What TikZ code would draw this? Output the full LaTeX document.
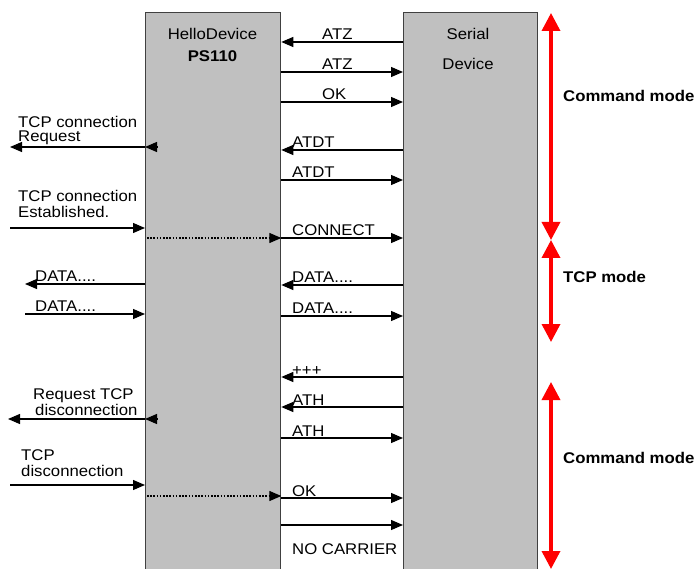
\documentclass[tikz,border=0pt]{standalone}
\usepackage{fontspec}
\setmainfont[FakeStretch=1.08]{Liberation Sans}
\usetikzlibrary{arrows.meta,calc}
\definecolor{boxgray}{HTML}{C0C0C0}
\definecolor{edgegray}{HTML}{404040}
\begin{document}
\begin{tikzpicture}[x=1pt,y=-1pt,
  devbox/.style={draw=edgegray,fill=boxgray,line width=1.3pt,anchor=north west,inner sep=0pt,minimum height=590pt},
  msg/.style={line width=1.1pt,-{Triangle[length=12pt,width=10pt]}},
  dotmsg/.style={line width=1.3pt,dash pattern=on 1.6pt off 1.6pt,-{Triangle[length=12pt,width=10pt]}},
  lbl/.style={anchor=base west,inner sep=0pt,font=\fontsize{15.5}{18}\selectfont},
  ttl/.style={anchor=base,inner sep=0pt,font=\fontsize{15.5}{18}\selectfont},
  mode/.style={anchor=base west,inner sep=0pt,font=\fontsize{15.5}{18}\selectfont\bfseries},
  span/.style={draw=red,line width=3.5pt,{Triangle[length=18pt,width=18pt]}-{Triangle[length=18pt,width=18pt]}}
]
\useasboundingbox (0,0) rectangle (696,569);
% devices
\node[devbox,minimum width=135pt] (hd) at (145,12) {};
\node[devbox,minimum width=134pt] (sd) at (403,12) {};
\node[ttl] (hdn) at (212.5,40) {HelloDevice};
\node[ttl,font=\fontsize{15.5}{18}\selectfont\bfseries] (hdm) at (212.5,62) {PS110};
\node[ttl] (sdn) at (468,40) {Serial};
\node[ttl] (sdm) at (468,70) {Device};
% left free ends
\coordinate (l1) at (10,147);
\coordinate (l2) at (10,228);
\coordinate (l3) at (25,284);
\coordinate (l4) at (25,314);
\coordinate (l5) at (8,419);
\coordinate (l6) at (10,485);
\coordinate (in1) at (157,147);
\coordinate (in2) at (157,419);
% messages between the devices
\draw[msg] (sd.west|-0,42) -- (hd.east|-0,42);
\draw[msg] (hd.east|-0,72) -- (sd.west|-0,72);
\draw[msg] (hd.east|-0,102) -- (sd.west|-0,102);
\draw[msg] (sd.west|-0,150) -- (hd.east|-0,150);
\draw[msg] (hd.east|-0,180) -- (sd.west|-0,180);
\draw[msg] (hd.east|-0,238) -- (sd.west|-0,238);
\draw[msg] (sd.west|-0,285) -- (hd.east|-0,285);
\draw[msg] (hd.east|-0,316) -- (sd.west|-0,316);
\draw[msg] (sd.west|-0,377) -- (hd.east|-0,377);
\draw[msg] (sd.west|-0,407) -- (hd.east|-0,407);
\draw[msg] (hd.east|-0,438) -- (sd.west|-0,438);
\draw[msg] (hd.east|-0,498) -- (sd.west|-0,498);
\draw[msg] (hd.east|-0,525) -- (sd.west|-0,525);
\node[lbl] (m1) at (322,40) {ATZ};
\node[lbl] (m2) at (322,70) {ATZ};
\node[lbl] (m3) at (322,100) {OK};
\node[lbl] (m4) at (292,148) {ATDT};
\node[lbl] (m5) at (292,178) {ATDT};
\node[lbl] (m6) at (292,236) {CONNECT};
\node[lbl] (m7) at (292,283) {DATA....};
\node[lbl] (m8) at (292,314) {DATA....};
\node[lbl] (m9) at (292,375) {+++};
\node[lbl] (m10) at (292,405) {ATH};
\node[lbl] (m11) at (292,436) {ATH};
\node[lbl] (m12) at (292,496) {OK};
\node[lbl] (m13) at (292,554) {NO CARRIER};
% left side (TCP)
\draw[msg] (in1) -- (hd.west|-in1);
\draw[msg] (hd.west|-l1) -- (l1);
\draw[msg] (l2) -- (hd.west|-l2);
\draw[dotmsg] ($(hd.west|-0,238)+(2,0)$) -- (hd.east|-0,238);
\draw[msg] (hd.west|-l3) -- (l3);
\draw[msg] (l4) -- (hd.west|-l4);
\draw[msg] (in2) -- (hd.west|-in2);
\draw[msg] (hd.west|-l5) -- (l5);
\draw[msg] (l6) -- (hd.west|-l6);
\draw[dotmsg] ($(hd.west|-0,496)+(2,0)$) -- (hd.east|-0,496);
\node[lbl] (a1) at (18,128) {TCP connection};
\node[lbl] (a2) at (18,142) {Request};
\node[lbl] (b1) at (18,202) {TCP connection};
\node[lbl] (b2) at (18,218) {Established.};
\node[lbl] (c1) at (35,282) {DATA....};
\node[lbl] (d1) at (35,312) {DATA....};
\node[lbl] (e1) at (33,399) {Request TCP};
\node[lbl] (e2) at (35,415) {disconnection};
\node[lbl] (f1) at (21,460) {TCP};
\node[lbl] (f2) at (21,476) {disconnection};
% modes
\coordinate (r0) at (551,13);
\coordinate (r1) at (551,240);
\coordinate (r2) at (551,342);
\coordinate (r3) at (551,382);
\coordinate (r4) at (551,569);
\draw[span] (r0) -- (r1);
\draw[span] (r1) -- (r2);
\draw[span] (r3) -- (r4);
\node[mode] (cm1) at (563,102) {Command mode};
\node[mode] (tm) at (563,283) {TCP mode};
\node[mode] (cm2) at (563,463) {Command mode};
\end{tikzpicture}
\end{document}
